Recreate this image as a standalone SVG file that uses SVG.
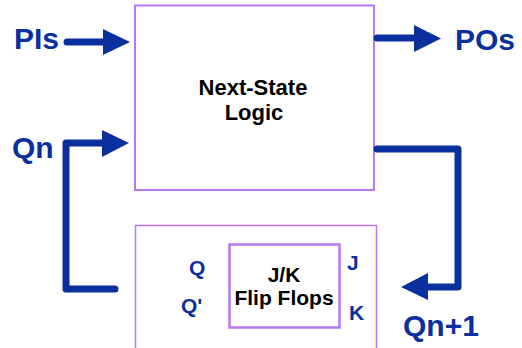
<svg xmlns="http://www.w3.org/2000/svg" width="522" height="348" viewBox="0 0 522 348">
  <style>
    .box { fill: #ffffff; stroke: #b878f2; }
    .sig { font-family: "Liberation Sans", Arial, sans-serif; font-weight: bold; fill: #0a2f9f; }
    .big { font-size: 30px; }
    .pin { font-size: 21px; }
    .lbl { font-family: "Liberation Sans", Arial, sans-serif; font-weight: bold; font-size: 21px; fill: #000000; text-anchor: middle; }
    .lg { font-size: 22px; }
    .wire { fill: none; stroke: #0a2f9f; stroke-width: 7; stroke-linecap: round; stroke-linejoin: round; }
    .head { fill: #0a2f9f; }
  </style>

  <rect width="522" height="348" fill="#ffffff"/>

  <g id="next-state-logic">
    <rect class="box" x="135" y="5.5" width="239" height="184.5" stroke-width="2"/>
    <text class="lbl lg" x="253" y="95">Next-State</text>
    <text class="lbl lg" x="254" y="120">Logic</text>
  </g>

  <g id="state-register">
    <rect class="box" x="135.5" y="225.5" width="241" height="140" stroke-width="1.5"/>
    <text class="sig pin" x="189" y="275">Q</text>
    <text class="sig pin" x="181" y="313">Q'</text>
    <text class="sig pin" x="347" y="270">J</text>
    <text class="sig pin" x="349" y="320">K</text>
  </g>

  <g id="jk-flip-flops">
    <rect class="box" x="229.5" y="244.5" width="110" height="83" stroke-width="2.5"/>
    <text class="lbl" x="284" y="282">J/K</text>
    <text class="lbl" x="284" y="305">Flip Flops</text>
  </g>

  <g id="signal-labels">
    <text class="sig big" x="14" y="49">PIs</text>
    <text class="sig big" x="455" y="50">POs</text>
    <text class="sig big" x="12" y="158">Qn</text>
    <text class="sig big" x="403" y="336">Qn+1</text>
  </g>

  <g id="connectors">
    <!-- primary inputs -->
    <path class="wire" d="M67 42 H105"/>
    <polygon class="head" points="103,29 130,42 103,55"/>
    <!-- primary outputs -->
    <path class="wire" d="M377 38 H416"/>
    <polygon class="head" points="414,25 441,38.5 414,52"/>
    <!-- present state fed back into the logic -->
    <path class="wire" d="M115 289 H66 V143 H104"/>
    <polygon class="head" points="102,130 129,143 102,157"/>
    <!-- next state into the flip flops -->
    <path class="wire" d="M377 149 H458 V287 H426"/>
    <polygon class="head" points="428,273 401,287 428,300"/>
  </g>
</svg>
